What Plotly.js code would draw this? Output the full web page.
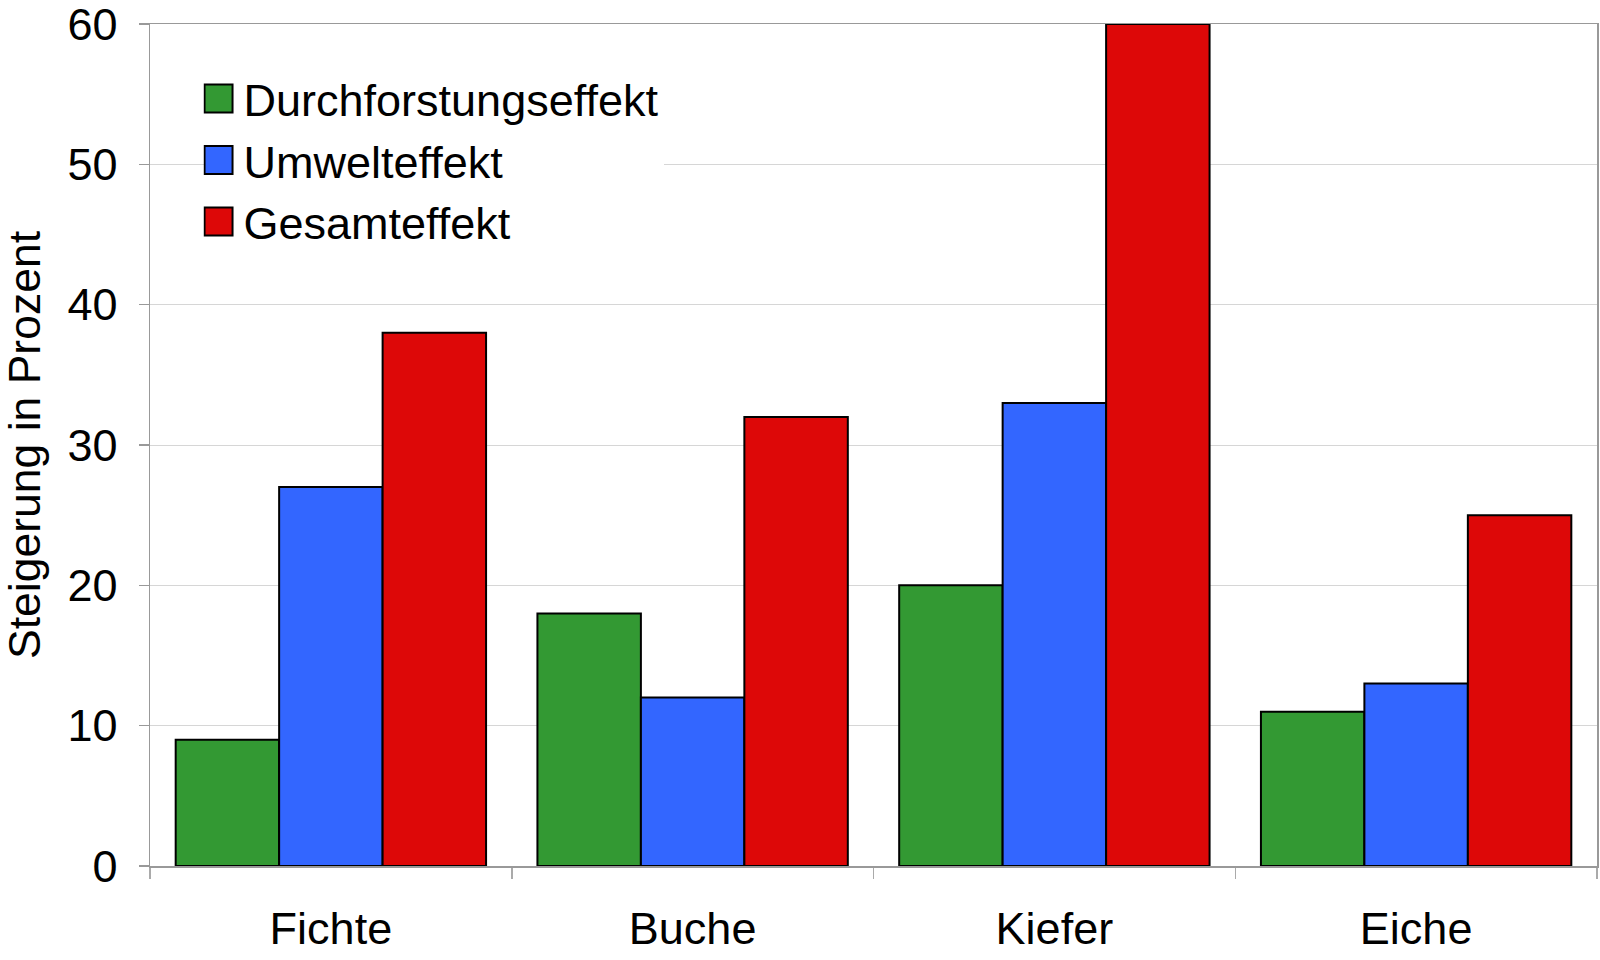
<!DOCTYPE html>
<html>
<head>
<meta charset="utf-8">
<script src="https://cdn.plot.ly/plotly-3.0.1.min.js"></script>
<style>html,body{margin:0;padding:0;background:#fff;}#chart{width:1600px;height:960px;}</style>
</head>
<body>
<div id="chart"></div>
<script>
var categories = ["Fichte", "Buche", "Kiefer", "Eiche"];
var durchforstung = [9, 18, 20, 11];
var umwelt = [27, 12, 33, 13];
var gesamt = [38, 32, 60, 25];
var seriesNames = ["Durchforstungseffekt", "Umwelteffekt", "Gesamteffekt"];
var seriesColors = ["#339933", "#3366ff", "#dd0808"];
var yTitle = "Steigerung in Prozent";

var FONT = "Liberation Sans, Arial, Helvetica, sans-serif";
var seriesValues = [durchforstung, umwelt, gesamt];
var traces = seriesValues.map(function (vals, i) {
  return {
    type: "bar",
    name: seriesNames[i],
    x: categories,
    y: vals,
    marker: { color: seriesColors[i], line: { color: "#000", width: 2 } }
  };
});

var layout = {
  width: 1600, height: 960,
  paper_bgcolor: "#fff", plot_bgcolor: "#fff",
  margin: { l: 150, r: 3, t: 24, b: 94 },
  font: { family: FONT, size: 45, color: "#000" },
  barmode: "group",
  bargap: 0.142,
  bargroupgap: 0,
  showlegend: true,
  legend: {
    x: 0.037, xanchor: "left", y: 0.954, yanchor: "top",
    bgcolor: "#fff", borderwidth: 0,
    font: { family: FONT, size: 45, color: "#000" },
    tracegroupgap: 0
  },
  xaxis: {
    type: "category",
    tickson: "boundaries",
    ticks: "outside", ticklen: 11, tickcolor: "#aaa", tickwidth: 1.5,
    showline: true, linecolor: "#999", linewidth: 1.5, mirror: true,
    showgrid: false,
    tickfont: { family: FONT, size: 45, color: "#000" },
    ticklabelstandoff: 22
  },
  yaxis: {
    range: [0, 60],
    dtick: 10,
    ticks: "outside", ticklen: 10, tickcolor: "#999", tickwidth: 1.5,
    showline: true, linecolor: "#999", linewidth: 1.5, mirror: true,
    showgrid: true, gridcolor: "#d6d6d6", gridwidth: 1,
    zeroline: false,
    tickfont: { family: FONT, size: 45, color: "#000" },
    ticklabelstandoff: 12,
    ticklabeloverflow: "allow",
    title: { text: yTitle, font: { family: FONT, size: 44.5, color: "#000" }, standoff: 20 }
  }
};

Plotly.newPlot("chart", traces, layout, { staticPlot: true }).then(function (gd) {
  var paths = gd.querySelectorAll(".legend .legendpoints path");
  paths.forEach(function (p) {
    p.setAttribute("d", "M9,14H-19V-14H9Z");
    p.style.strokeWidth = "2px";
  });
});
</script>
</body>
</html>
